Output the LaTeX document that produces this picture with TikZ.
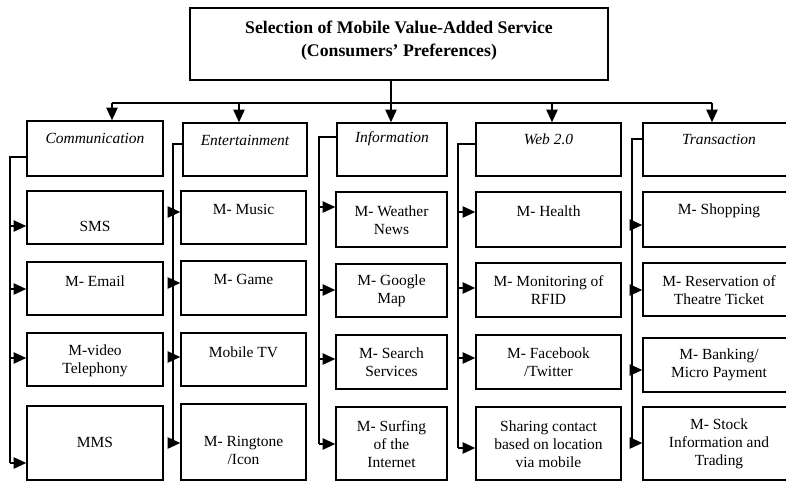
\documentclass[tikz,border=0pt]{standalone}
\usepackage{fontspec}
\setmainfont{Liberation Serif}
\usetikzlibrary{arrows.meta,fit}

\tikzset{every picture/.style={line width=1.1pt}}
\tikzset{
  box/.style={draw, inner sep=0pt, fit={#1}},
  lbl/.style={inner sep=0pt, align=center, font=\fontsize{11.6}{13.5}\selectfont},
  cat/.style={inner sep=0pt, align=center, font=\fontsize{11.6}{13.5}\selectfont\itshape},
  ttl/.style={inner sep=0pt, align=center, font=\fontsize{13.3}{17.3}\selectfont\bfseries},
  arr/.style={-{Triangle[length=9.5pt,width=8.5pt]}}
}

\begin{document}
\begin{tikzpicture}[x=0.75pt,y=0.75pt,yscale=-1,xscale=1]
\clip (0,0) rectangle (786,482); %set diagram size 786 x 482

%Shape: Rectangle [id:top]
\node[box={(190,8) (608,80)}] (top) {};
\node[ttl] (topt) at (399,40.5) {Selection of Mobile Value-Added Service\\(Consumers’ Preferences)};

%Shape: Rectangle [id:categories]
\node[box={(27,121) (163,176)}] (comm) {};
\node[box={(183,123) (307,176)}] (ent) {};
\node[box={(337,123) (447,176)}] (info) {};
\node[box={(476,123) (621,176)}] (web) {};
\node[box={(643,123) (795,176)}] (trans) {};
\node[cat] (commt) at (95,138) {Communication};
\node[cat] (entt) at (245,140) {Entertainment};
\node[cat] (infot) at (392,139) {Information};
\node[cat] (webt) at (548.5,139) {Web 2.0};
\node[cat] (transt) at (719,139) {Transaction};

%Straight Lines [id:tree]
\coordinate (bus) at (391,103);
\coordinate (a1) at (112,103);
\coordinate (a2) at (239,103);
\coordinate (a4) at (552,103);
\coordinate (a5) at (712,103);
\draw (top.south -| bus) -- (bus);
\draw (a1) -- (a5);
\draw[arr] (a1) -- (comm.north -| a1);
\draw[arr] (a2) -- (ent.north -| a2);
\draw[arr] (bus) -- (info.north -| bus);
\draw[arr] (a4) -- (web.north -| a4);
\draw[arr] (a5) -- (trans.north -| a5);

%Shape: Rectangle [id:communication]
\node[box={(27,191) (163,244)}] (sms) {};
\node[box={(27,262) (163,315)}] (email) {};
\node[box={(27,333) (163,386)}] (video) {};
\node[box={(27,406) (163,480)}] (mms) {};
\node[lbl] (smst) at (95,226) {SMS};
\node[lbl] (emailt) at (95,281) {M- Email};
\node[lbl] (videot) at (95,361) {M-video\\Telephony};
\node[lbl] (mmst) at (95,442) {MMS};
\coordinate (c1) at (10,157);
\coordinate (c1a) at (10,226);
\coordinate (c1b) at (10,289);
\coordinate (c1c) at (10,358);
\coordinate (c1d) at (10,463);
\draw (comm.west |- c1) -- (c1) -- (c1d);
\draw[arr] (c1a) -- (sms.west |- c1a);
\draw[arr] (c1b) -- (email.west |- c1b);
\draw[arr] (c1c) -- (video.west |- c1c);
\draw[arr] (c1d) -- (mms.west |- c1d);

%Shape: Rectangle [id:entertainment]
\node[box={(181,191) (306,244)}] (music) {};
\node[box={(181,261) (306,315)}] (game) {};
\node[box={(181,333) (306,386)}] (tv) {};
\node[box={(181,404) (306,480)}] (ring) {};
\node[lbl] (musict) at (243.5,209) {M- Music};
\node[lbl] (gamet) at (243.5,279) {M- Game};
\node[lbl] (tvt) at (243.5,352) {Mobile TV};
\node[lbl] (ringt) at (243.5,450) {M- Ringtone\\/Icon};
\coordinate (c2) at (173,144);
\coordinate (c2a) at (173,212);
\coordinate (c2b) at (173,283);
\coordinate (c2c) at (173,357);
\coordinate (c2d) at (173,443);
\draw (ent.west |- c2) -- (c2) -- (c2d);
\draw[arr] (c2a) -- (music.west |- c2a);
\draw[arr] (c2b) -- (game.west |- c2b);
\draw[arr] (c2c) -- (tv.west |- c2c);
\draw[arr] (c2d) -- (ring.west |- c2d);

%Shape: Rectangle [id:information]
\node[box={(336,192) (447,247)}] (weather) {};
\node[box={(336,264) (447,317)}] (google) {};
\node[box={(336,335) (447,389)}] (search) {};
\node[box={(336,407) (447,480)}] (surf) {};
\node[lbl] (weathert) at (391.5,220) {M- Weather\\News};
\node[lbl] (googlet) at (391.5,291) {M- Google\\Map};
\node[lbl] (searcht) at (391.5,362) {M- Search\\Services};
\node[lbl] (surft) at (391.5,444) {M- Surfing\\of the\\Internet};
\coordinate (c3) at (319,137);
\coordinate (c3a) at (319,207);
\coordinate (c3b) at (319,290);
\coordinate (c3c) at (319,359);
\coordinate (c3d) at (319,444);
\draw (info.west |- c3) -- (c3) -- (c3d);
\draw[arr] (c3a) -- (weather.west |- c3a);
\draw[arr] (c3b) -- (google.west |- c3b);
\draw[arr] (c3c) -- (search.west |- c3c);
\draw[arr] (c3d) -- (surf.west |- c3d);

%Shape: Rectangle [id:web]
\node[box={(476,192) (621,247)}] (health) {};
\node[box={(476,263) (621,317)}] (rfid) {};
\node[box={(476,335) (621,389)}] (fb) {};
\node[box={(476,407) (621,480)}] (share) {};
\node[lbl] (healtht) at (548.5,211) {M- Health};
\node[lbl] (rfidt) at (548.5,290) {M- Monitoring of\\RFID};
\node[lbl] (fbt) at (548.5,362) {M- Facebook\\/Twitter};
\node[lbl] (sharet) at (548.5,444) {Sharing contact\\based on location\\via mobile};
\coordinate (c4) at (458,144);
\coordinate (c4a) at (458,212);
\coordinate (c4b) at (458,288);
\coordinate (c4c) at (458,358);
\coordinate (c4d) at (458,448);
\draw (web.west |- c4) -- (c4) -- (c4d);
\draw[arr] (c4a) -- (health.west |- c4a);
\draw[arr] (c4b) -- (rfid.west |- c4b);
\draw[arr] (c4c) -- (fb.west |- c4c);
\draw[arr] (c4d) -- (share.west |- c4d);

%Shape: Rectangle [id:transaction]
\node[box={(643,192) (795,247)}] (shop) {};
\node[box={(643,263) (795,316)}] (resv) {};
\node[box={(643,338) (795,392)}] (bank) {};
\node[box={(643,407) (795,480)}] (stock) {};
\node[lbl] (shopt) at (719,211) {M- Shopping};
\node[lbl] (resvt) at (719,290) {M- Reservation of\\Theatre Ticket};
\node[lbl] (bankt) at (719,365) {M- Banking/\\Micro Payment};
\node[lbl] (stockt) at (719,444) {M- Stock\\Information and\\Trading};
\coordinate (c5) at (632,139);
\coordinate (c5a) at (632,225);
\coordinate (c5b) at (632,290);
\coordinate (c5c) at (632,370);
\coordinate (c5d) at (632,443);
\draw (trans.west |- c5) -- (c5) -- (c5d);
\draw[arr] (c5a) -- (shop.west |- c5a);
\draw[arr] (c5b) -- (resv.west |- c5b);
\draw[arr] (c5c) -- (bank.west |- c5c);
\draw[arr] (c5d) -- (stock.west |- c5d);

\end{tikzpicture}
\end{document}
